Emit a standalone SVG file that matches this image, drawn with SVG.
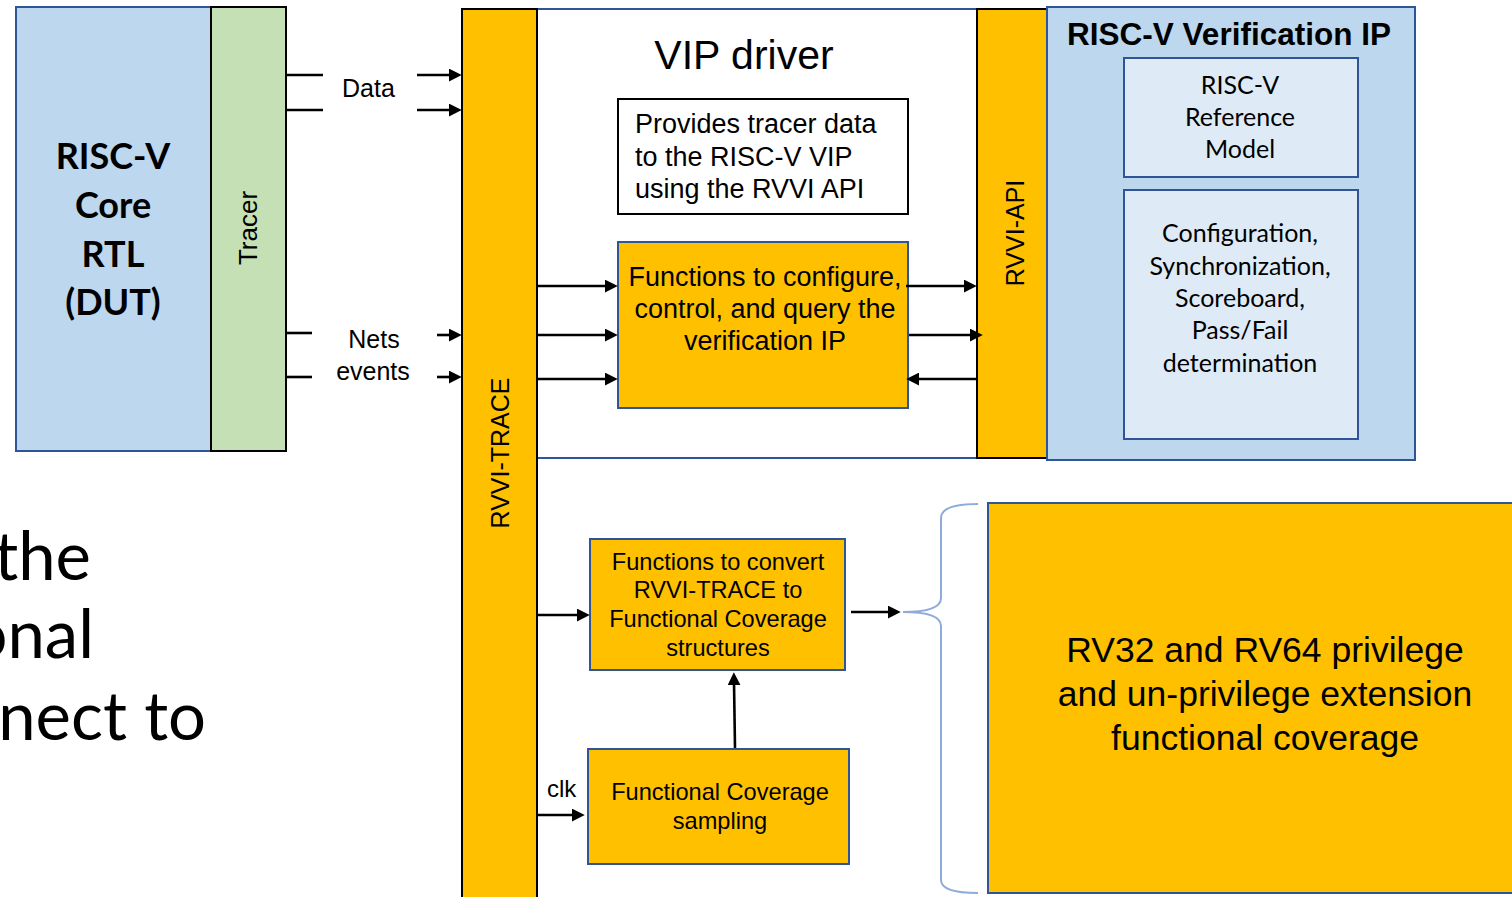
<svg xmlns="http://www.w3.org/2000/svg" width="1512" height="897" viewBox="0 0 1512 897">
<defs>
<marker id="ah" viewBox="0 0 12 12" markerUnits="userSpaceOnUse" markerWidth="13" markerHeight="13" refX="3" refY="6" orient="auto">
<path d="M0,0 L12,6 L0,12 z" fill="#000"/>
</marker>
<style>
.a{font-family:"Liberation Sans",Arial,sans-serif;fill:#000}
.c{font-family:Lato,"Open Sans",sans-serif;fill:#000}
.orange{fill:#FFC000}
.bs{stroke:#2F5597;stroke-width:2}
.ks{stroke:#000;stroke-width:2}
.ln{stroke:#000;stroke-width:2.6;fill:none}
.arr{stroke:#000;stroke-width:2.6;fill:none;marker-end:url(#ah)}
</style>
</defs>
<rect width="1512" height="897" fill="#fff"/>

<g id="slide-text">
<text class="c" font-size="67" text-anchor="end" x="91" y="580">the</text>
<text class="c" font-size="67" text-anchor="end" x="94" y="658">onal</text>
<text class="c" font-size="67" text-anchor="end" x="206" y="740">nect to</text>
</g>

<g id="dut">
<rect x="16" y="7" width="195" height="444" fill="#BDD7EE" class="bs"/>
<text class="c" font-size="36" font-weight="700" text-anchor="middle" x="113" y="169">RISC-V</text>
<text class="c" font-size="36" font-weight="700" text-anchor="middle" x="113" y="218">Core</text>
<text class="c" font-size="36" font-weight="700" text-anchor="middle" x="113" y="267">RTL</text>
<text class="c" font-size="36" font-weight="700" text-anchor="middle" x="113" y="315">(DUT)</text>
</g>

<g id="tracer">
<rect x="211" y="7" width="75" height="444" fill="#C5E0B4" class="ks"/>
<text class="a" font-size="26" text-anchor="middle" transform="translate(257,228) rotate(-90)">Tracer</text>
</g>

<g id="vip-driver">
<rect x="537" y="9" width="440" height="449" fill="#fff" class="bs"/>
<text class="a" font-size="41" text-anchor="middle" x="744" y="69">VIP driver</text>
</g>

<g id="rvvi-trace">
<rect x="462" y="9" width="75" height="900" class="orange ks"/>
<text class="a" font-size="25" text-anchor="middle" transform="translate(509,453) rotate(-90)">RVVI-TRACE</text>
</g>

<g id="provides">
<rect x="618" y="99" width="290" height="115" fill="#fff" class="ks"/>
<text class="a" font-size="27" x="635" y="133">Provides tracer data</text>
<text class="a" font-size="27" x="635" y="166">to the RISC-V VIP</text>
<text class="a" font-size="27" x="635" y="198">using the RVVI API</text>
</g>

<g id="functions-configure">
<rect x="618" y="242" width="290" height="166" class="orange bs"/>
<text class="a" font-size="27" text-anchor="middle" x="765" y="286">Functions to configure,</text>
<text class="a" font-size="27" text-anchor="middle" x="765" y="318">control, and query the</text>
<text class="a" font-size="27" text-anchor="middle" x="765" y="350">verification IP</text>
</g>

<g id="rvvi-api">
<rect x="977" y="9" width="70" height="449" class="orange ks"/>
<text class="a" font-size="25" text-anchor="middle" transform="translate(1024,233) rotate(-90)">RVVI-API</text>
</g>

<g id="verification-ip">
<rect x="1047" y="7" width="368" height="453" fill="#BDD7EE" class="bs"/>
<text class="a" font-size="31.5" font-weight="700" text-anchor="middle" x="1229" y="45">RISC-V Verification IP</text>
</g>

<g id="reference-model">
<rect x="1124" y="58" width="234" height="119" fill="#DEEBF7" class="bs"/>
<text class="c" font-size="25" text-anchor="middle" x="1240" y="94">RISC-V</text>
<text class="c" font-size="25" text-anchor="middle" x="1240" y="126">Reference</text>
<text class="c" font-size="25" text-anchor="middle" x="1240" y="158">Model</text>
</g>

<g id="config-box">
<rect x="1124" y="190" width="234" height="249" fill="#DEEBF7" class="bs"/>
<text class="c" font-size="25" text-anchor="middle" x="1240" y="242">Configuration,</text>
<text class="c" font-size="25" text-anchor="middle" x="1240" y="275">Synchronization,</text>
<text class="c" font-size="25" text-anchor="middle" x="1240" y="307">Scoreboard,</text>
<text class="c" font-size="25" text-anchor="middle" x="1240" y="339">Pass/Fail</text>
<text class="c" font-size="25" text-anchor="middle" x="1240" y="372">determination</text>
</g>

<g id="functions-convert">
<rect x="590" y="539" width="255" height="131" class="orange bs"/>
<text class="a" font-size="23.6" text-anchor="middle" x="718" y="570">Functions to convert</text>
<text class="a" font-size="23.6" text-anchor="middle" x="718" y="598">RVVI-TRACE to</text>
<text class="a" font-size="23.6" text-anchor="middle" x="718" y="627">Functional Coverage</text>
<text class="a" font-size="23.6" text-anchor="middle" x="718" y="656">structures</text>
</g>

<g id="coverage-sampling">
<rect x="588" y="749" width="261" height="115" class="orange bs"/>
<text class="a" font-size="23.6" text-anchor="middle" x="720" y="800">Functional Coverage</text>
<text class="a" font-size="23.6" text-anchor="middle" x="720" y="829">sampling</text>
</g>

<g id="rv-coverage">
<rect x="988" y="503" width="540" height="390" class="orange bs"/>
<text class="a" font-size="35.5" text-anchor="middle" x="1265" y="662">RV32 and RV64 privilege</text>
<text class="a" font-size="35.5" text-anchor="middle" x="1265" y="706">and un-privilege extension</text>
<text class="a" font-size="35.5" text-anchor="middle" x="1265" y="750">functional coverage</text>
</g>

<g id="connectors">
<line class="ln" x1="286" y1="75" x2="323" y2="75"/>
<line class="ln" x1="286" y1="110" x2="323" y2="110"/>
<line class="arr" x1="417" y1="75" x2="452" y2="75"/>
<line class="arr" x1="417" y1="110" x2="452" y2="110"/>
<line class="ln" x1="286" y1="333" x2="312" y2="333"/>
<line class="ln" x1="286" y1="377" x2="312" y2="377"/>
<line class="arr" x1="437" y1="335" x2="452" y2="335"/>
<line class="arr" x1="437" y1="377" x2="452" y2="377"/>
<line class="arr" x1="538" y1="286" x2="608" y2="286"/>
<line class="arr" x1="538" y1="335" x2="608" y2="335"/>
<line class="arr" x1="538" y1="379" x2="608" y2="379"/>
<line class="arr" x1="906" y1="286" x2="967" y2="286"/>
<line class="arr" x1="909" y1="335" x2="973" y2="335"/>
<line class="arr" x1="977" y1="379" x2="916" y2="379"/>
<line class="arr" x1="538" y1="615" x2="580" y2="615"/>
<line class="arr" x1="851" y1="612" x2="891" y2="612"/>
<line class="arr" x1="735" y1="748" x2="734" y2="682"/>
<line class="arr" x1="537" y1="815" x2="575" y2="815"/>
<text class="a" font-size="25" x="342" y="97">Data</text>
<text class="a" font-size="25" text-anchor="middle" x="374" y="348">Nets</text>
<text class="a" font-size="25" text-anchor="middle" x="373" y="380">events</text>
<text class="a" font-size="24" x="547" y="797">clk</text>
<path d="M978,504 Q941,504 941,518 L941,598 Q941,612 903,612 Q941,612 941,626 L941,880 Q941,893 978,893" fill="none" stroke="#8FAADC" stroke-width="2"/>
</g>
</svg>
